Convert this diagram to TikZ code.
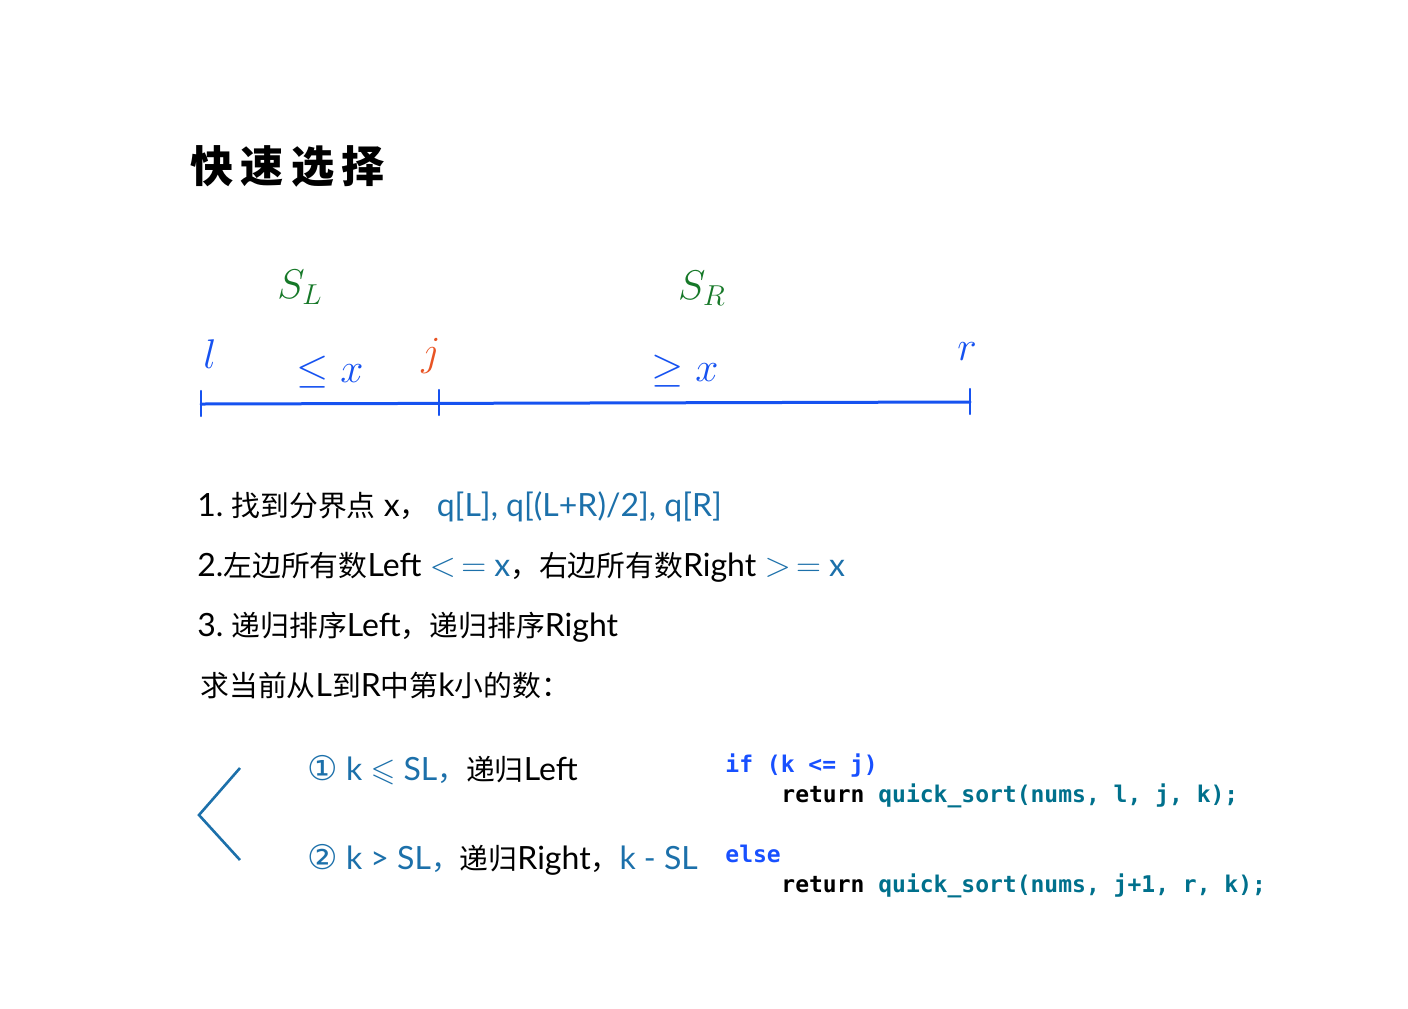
\documentclass[tikz,border=0pt]{standalone}
\usepackage{amsmath,amssymb}
\usepackage{fontspec}
\setmainfont{Lato}
\setmonofont{DejaVu Sans Mono}
\newfontfamily\cjk[Scale=0.9]{Noto Sans CJK SC}
\newfontfamily\symf{DejaVu Sans}
\usepackage{tikz}
\usetikzlibrary{positioning}
\definecolor{inkblue}{RGB}{22,82,240}
\definecolor{txtblue}{RGB}{28,112,170}
\definecolor{inkgreen}{RGB}{22,120,40}
\definecolor{inkred}{RGB}{232,84,36}
\definecolor{kwblue}{RGB}{24,80,255}
\definecolor{fnteal}{RGB}{0,112,140}
\newcommand{\zh}[1]{{\cjk #1}}
\newcommand{\hl}[1]{\textcolor{txtblue}{#1}}

\begin{document}
\begin{tikzpicture}[
    x=0.5pt, y=-0.5pt,
    hand/.style={inner sep=0pt, font=\fontsize{22}{22}\selectfont},
    txt/.style={inner sep=0pt, anchor=base west, font=\fontsize{16}{18}\selectfont},
    code/.style={inner sep=0pt, anchor=base west,
                 font=\ttfamily\bfseries\fontsize{11.5}{13}\selectfont},
    axis/.style={inkblue, line width=1.5pt, line cap=round, line join=round},
    tick/.style={inkblue, line width=1.2pt, line cap=round},
]
\useasboundingbox (0,0) rectangle (1408,1008);

% title
\node[inner sep=0pt, anchor=west, font=\cjk\bfseries\fontsize{24}{26}\selectfont]
    (title) at (190,166) {快\,速\,选\,择};

% number line
\coordinate (pl) at (201,404);
\coordinate (pj) at (439,403);
\coordinate (pr) at (970,402);
\draw[axis] (pl) -- (pr);
\foreach \p in {pl,pj,pr}
    \draw[tick] ([yshift=6.5pt]\p) -- ([yshift=-6pt]\p);

\node[hand, inkblue] (lbl) at (210,354) {$l$};
\node[hand, inkblue] (le) at (330,372) {$\leq x$};
\node[hand, inkred] (jl) at (431,356) {$j$};
\node[hand, inkblue] (ge) at (685,371) {$\geq x$};
\node[hand, inkblue] (rl) at (967,352) {$r$};
\node[hand, inkgreen] (sl) at (300,287) {$S_L$};
\node[hand, inkgreen] (sr) at (702,288) {$S_R$};

% steps
\node[txt] (s1) at (197,516) {1.\ \zh{找到分界点}\ x\zh{，}\ \hl{q[L], q[(L+R)/2], q[R]}};
\node[txt] (s2) at (197,576) {2.\zh{左边所有数}Left \hl{$<$\,$=$\ x}\zh{，右边所有数}Right \hl{$>$\,$=$\ x}};
\node[txt] (s3) at (197,636) {3.\ \zh{递归排序}Left\zh{，递归排序}Right};
\node[txt] (ask) at (200,696) {\zh{求当前从}L\zh{到}R\zh{中第}k\zh{小的数：}};

% cases
\coordinate (bt) at (240,768);
\coordinate (bm) at (199,815);
\coordinate (bb) at (240,860);
\draw[txtblue, line width=1.3pt] (bt) -- (bm) -- (bb);

\node[txt] (c1) at (307,780)
    {\hl{{\symf\fontsize{17}{17}\selectfont ①} k $\leqslant$ SL\zh{，}}\zh{递归}Left};
\node[txt] (c2) at (307,869)
    {\hl{{\symf\fontsize{17}{17}\selectfont ②} k > SL\zh{，}}\zh{递归}Right\zh{，}\hl{k - SL}};

% code
\node[code, kwblue] (if) at (725,772) {if (k <= j)};
\node[code] (ret1) at (781,802) {return \textcolor{fnteal}{quick\_sort(nums, l, j, k);}};
\node[code, kwblue] (else) at (725,862) {else};
\node[code] (ret2) at (781,892) {return \textcolor{fnteal}{quick\_sort(nums, j+1, r, k);}};

\end{tikzpicture}
\end{document}
